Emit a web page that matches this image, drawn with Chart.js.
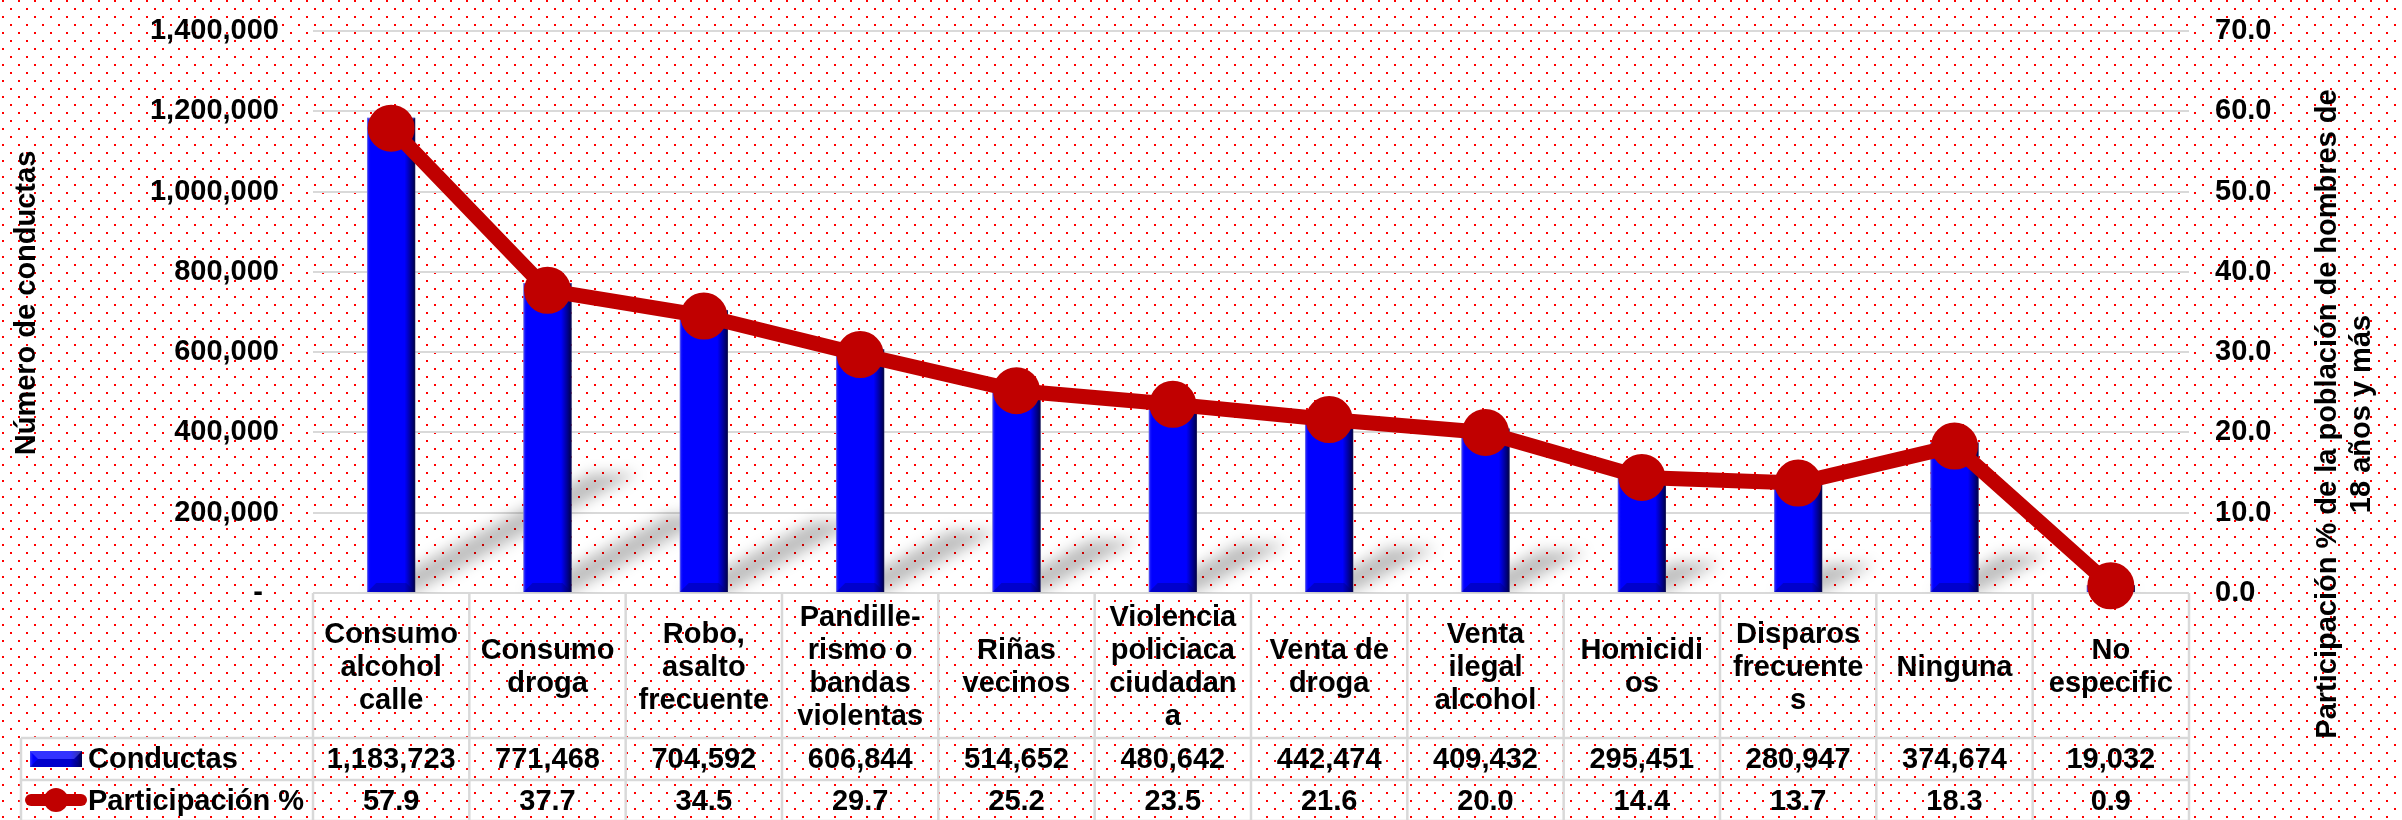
<!DOCTYPE html>
<html>
<head>
<meta charset="utf-8">
<title>Conductas</title>
<script src="https://cdn.jsdelivr.net/npm/chart.js@4.4.1/dist/chart.umd.min.js"></script>
<style>
  html, body { margin: 0; padding: 0; background: #fff; }
</style>
</head>
<body>
<canvas id="myChart" width="2402" height="820"></canvas>
<script>
// categories, with the line breaks used in the table
const categories = [
    ['Consumo', 'alcohol', 'calle'],
    ['Consumo', 'droga'],
    ['Robo,', 'asalto', 'frecuente'],
    ['Pandille-', 'rismo o', 'bandas', 'violentas'],
    ['Riñas', 'vecinos'],
    ['Violencia', 'policiaca', 'ciudadan', 'a'],
    ['Venta de', 'droga'],
    ['Venta', 'ilegal', 'alcohol'],
    ['Homicidi', 'os'],
    ['Disparos', 'frecuente', 's'],
    ['Ninguna'],
    ['No', 'especific']
];

// series values
const conductas = [1183723, 771468, 704592, 606844, 514652, 480642, 442474, 409432, 295451, 280947, 374674, 19032];
const participacion = [57.9, 37.7, 34.5, 29.7, 25.2, 23.5, 21.6, 20.0, 14.4, 13.7, 18.3, 0.9];

// tick values
const leftTicks = [0, 200000, 400000, 600000, 800000, 1000000, 1200000, 1400000];
const rightTicks = [0, 10, 20, 30, 40, 50, 60, 70];

const seriesNames = ['Conductas', 'Participación %'];
const leftTitle = 'Número de conductas';
const rightTitle = ['Participación % de la población de hombres de', '18 años y más'];

const FAMILY = '"Liberation Sans", Arial, sans-serif';
const FONT = 'bold 29px ' + FAMILY;
const GRID = '#D9D9D9';
const RED = '#C00000';
const BLUE = '#0000FF';

// red dotted background
const dotPlugin = {
    id: 'dots',
    beforeDraw(chart) {
        const tile = document.createElement('canvas');
        tile.width = 16;
        tile.height = 16;
        const t = tile.getContext('2d');
        t.fillStyle = '#fff';
        t.fillRect(0, 0, 16, 16);
        t.fillStyle = '#ff0000';
        t.fillRect(2, 0, 2, 2);
        t.fillRect(10, 8, 2, 2);
        const c = chart.ctx;
        c.save();
        c.fillStyle = c.createPattern(tile, 'repeat');
        c.fillRect(0, 0, chart.width, chart.height);
        c.restore();
    }
};

// shadows behind the bars and bevel on top of them
const barLook = {
    id: 'barLook',
    beforeDatasetDraw(chart, args) {
        if (chart.data.datasets[args.index].type !== 'bar') return;
        const c = chart.ctx;
        const area = chart.chartArea;
        c.save();
        c.beginPath();
        c.rect(area.left, area.top, area.right - area.left, area.bottom - area.top);
        c.clip();
        c.filter = 'blur(7px)';
        c.fillStyle = 'rgba(0,0,0,0.25)';
        args.meta.data.forEach(bar => {
            const h = bar.base - bar.y;
            const half = bar.width / 2;
            const dx = h * 0.47, dy = h * 0.25;
            c.beginPath();
            c.moveTo(bar.x - half, bar.base);
            c.lineTo(bar.x + half, bar.base);
            c.lineTo(bar.x + half + dx, bar.base - dy);
            c.lineTo(bar.x - half + dx, bar.base - dy);
            c.closePath();
            c.fill();
        });
        c.restore();
    },
    afterDatasetDraw(chart, args) {
        if (chart.data.datasets[args.index].type !== 'bar') return;
        const c = chart.ctx;
        args.meta.data.forEach(bar => {
            drawBevel(c, bar.x - bar.width / 2, bar.y, bar.width, bar.base - bar.y);
        });
    }
};

function drawBevel(c, l, t, w, h) {
    const r = l + w, b = t + h;
    c.save();
    const g = c.createLinearGradient(l, 0, r, 0);
    g.addColorStop(0, 'rgba(90,90,255,0.7)');
    g.addColorStop(0.08, 'rgba(0,0,255,0)');
    g.addColorStop(0.78, 'rgba(0,0,60,0)');
    g.addColorStop(1, 'rgba(0,0,50,0.9)');
    c.fillStyle = g;
    c.fillRect(l, t, w, h);
    const bv = Math.min(9, h / 2);
    c.fillStyle = 'rgba(0,0,110,0.35)';
    c.beginPath();
    c.moveTo(l, b);
    c.lineTo(r, b);
    c.lineTo(r - bv, b - bv);
    c.lineTo(l + bv, b - bv);
    c.closePath();
    c.fill();
    c.fillStyle = 'rgba(110,110,255,0.45)';
    c.beginPath();
    c.moveTo(l, t);
    c.lineTo(r, t);
    c.lineTo(r - bv, t + bv);
    c.lineTo(l + bv, t + bv);
    c.closePath();
    c.fill();
    c.restore();
}

function hline(c, x1, x2, y) {
    c.beginPath();
    c.moveTo(x1, y);
    c.lineTo(x2, y);
    c.stroke();
}

function vline(c, x, y1, y2) {
    c.beginPath();
    c.moveTo(x, y1);
    c.lineTo(x, y2);
    c.stroke();
}

// data table under the plot, legend keys and axis titles
const tablePlugin = {
    id: 'table',
    afterDraw(chart) {
        const c = chart.ctx;
        const xs = chart.scales.x;
        const area = chart.chartArea;
        const n = categories.length;
        const colW = (area.right - area.left) / n;
        const top = area.bottom, row1 = 738, row2 = 780, row3 = 821;
        const legendLeft = 21;

        c.save();
        c.strokeStyle = GRID;
        c.lineWidth = 2.5;
        hline(c, legendLeft, area.right, row1);
        hline(c, legendLeft, area.right, row2);
        hline(c, legendLeft, area.right, row3);
        for (let i = 0; i <= n; i++) {
            vline(c, area.left + i * colW, top, row3);
        }
        vline(c, legendLeft, row1, row3);

        c.font = FONT;
        c.fillStyle = '#000';
        c.textAlign = 'center';
        c.textBaseline = 'middle';
        categories.forEach((lines, i) => {
            const cx = xs.getPixelForValue(i);
            const y0 = (top + row1) / 2 + 2 - (lines.length - 1) * 33 / 2;
            lines.forEach((s, j) => c.fillText(s, cx, y0 + j * 33));
            c.fillText(conductas[i].toLocaleString('en-US'), cx, (row1 + row2) / 2 + 1);
            c.fillText(participacion[i].toFixed(1), cx, (row2 + row3) / 2 + 1);
        });

        // legend keys
        c.fillStyle = BLUE;
        c.fillRect(30, 751, 52, 16);
        drawBevel(c, 30, 751, 52, 16);
        c.strokeStyle = RED;
        c.lineWidth = 12;
        c.lineCap = 'round';
        hline(c, 31, 81, 800);
        c.fillStyle = RED;
        c.beginPath();
        c.arc(56, 800, 12, 0, Math.PI * 2);
        c.fill();

        c.fillStyle = '#000';
        c.textAlign = 'left';
        c.fillText(seriesNames[0], 88, (row1 + row2) / 2 + 1);
        c.fillText(seriesNames[1], 88, (row2 + row3) / 2 + 1);

        // axis titles
        c.textAlign = 'center';
        c.save();
        c.translate(27, 303);
        c.rotate(-Math.PI / 2);
        c.fillText(leftTitle, 0, 0);
        c.restore();
        c.save();
        c.translate(2328, 414);
        c.rotate(-Math.PI / 2);
        c.fillText(rightTitle[0], 0, 0);
        c.fillText(rightTitle[1], 0, 34);
        c.restore();
        c.restore();
    }
};

// no extra room for half tick labels: the plot goes up to the padding
function noPad(s) {
    s.paddingTop = 0;
    s.paddingBottom = 0;
    s.paddingLeft = 0;
    s.paddingRight = 0;
}

Chart.defaults.font.family = FAMILY;
Chart.defaults.font.size = 29;
Chart.defaults.font.weight = 'bold';
Chart.defaults.color = '#000';

let ctx = document.getElementById('myChart').getContext('2d');
let myChart = new Chart(ctx, {
    type: 'bar',
    data: {
        labels: categories.map(l => l.join(' ')),
        datasets: [
            {
                type: 'line',
                label: seriesNames[1],
                data: participacion,
                yAxisID: 'y1',
                order: 0,
                clip: false,
                borderColor: RED,
                backgroundColor: RED,
                borderWidth: 15,
                borderJoinStyle: 'round',
                borderCapStyle: 'round',
                pointRadius: 16,
                pointBackgroundColor: RED,
                pointBorderColor: RED,
                tension: 0
            },
            {
                type: 'bar',
                label: seriesNames[0],
                data: conductas,
                yAxisID: 'y',
                order: 1,
                backgroundColor: BLUE,
                borderColor: '#8080c8',
                borderWidth: 1,
                barThickness: 48
            }
        ]
    },
    options: {
        responsive: false,
        animation: false,
        layout: { padding: { top: 24 } },
        plugins: {
            legend: { display: false },
            tooltip: { enabled: false }
        },
        scales: {
            x: {
                offset: true,
                grid: { display: false },
                border: { display: false },
                ticks: { display: false },
                afterFit: s => { noPad(s); s.height = 227; }
            },
            y: {
                position: 'left',
                min: 0,
                max: 1400000,
                afterBuildTicks: s => { s.ticks = leftTicks.map(v => ({ value: v })); },
                ticks: {
                    padding: 34,
                    callback: v => v === 0 ? '-  ' : v.toLocaleString('en-US')
                },
                grid: { color: GRID, lineWidth: 2, drawTicks: false },
                border: { display: false },
                afterFit: s => { noPad(s); s.width = 313; }
            },
            y1: {
                position: 'right',
                min: 0,
                max: 70,
                afterBuildTicks: s => { s.ticks = rightTicks.map(v => ({ value: v })); },
                ticks: {
                    padding: 26,
                    callback: v => v.toFixed(1)
                },
                grid: { display: false, drawTicks: false },
                border: { display: false },
                afterFit: s => { noPad(s); s.width = 213; }
            }
        }
    },
    plugins: [dotPlugin, barLook, tablePlugin]
});
</script>
</body>
</html>
